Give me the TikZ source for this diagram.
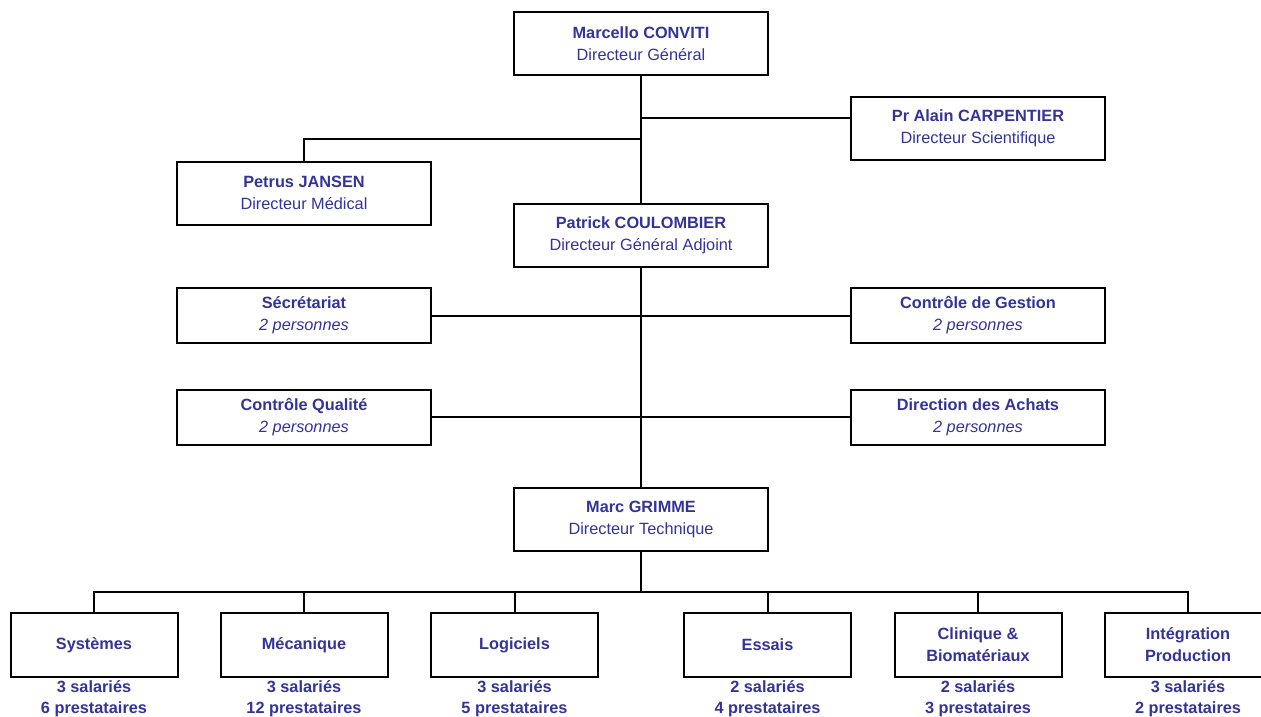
\documentclass[tikz,border=0pt]{standalone}
\usepackage{fontspec}
\setmainfont{Liberation Sans}
\usetikzlibrary{positioning}
\definecolor{orgblue}{RGB}{51,51,153}
\begin{document}
\begin{tikzpicture}[x=1pt,y=-1pt,line width=2pt,
  box/.style={draw=black,line width=2pt,minimum width=254pt,minimum height=63pt,
    align=center,text=orgblue,inner sep=0pt,font=\fontsize{16.3}{22}\selectfont},
  small/.style={box,minimum height=55pt},
  team/.style={box,minimum width=167pt,minimum height=64pt},
  staff/.style={align=center,text=orgblue,inner sep=0pt,
    font=\fontsize{16.3}{21}\selectfont\bfseries}]
\useasboundingbox (0,0) rectangle (1261,717);
\node[box] (conviti) at (641,44) {\textbf{Marcello CONVITI}\\Directeur Général};
\node[box] (carpentier) at (978,128.5) {\textbf{Pr Alain CARPENTIER}\\Directeur Scientifique};
\node[box] (jansen) at (304,193) {\textbf{Petrus JANSEN}\\Directeur Médical};
\node[box] (coulombier) at (641,235) {\textbf{Patrick COULOMBIER}\\Directeur Général Adjoint};
\node[small] (secretariat) at (304,315.5) {\textbf{Sécrétariat}\\\textit{2 personnes}};
\node[small] (gestion) at (978,315.5) {\textbf{Contrôle de Gestion}\\\textit{2 personnes}};
\node[small] (qualite) at (304,417) {\textbf{Contrôle Qualité}\\\textit{2 personnes}};
\node[small] (achats) at (978,417) {\textbf{Direction des Achats}\\\textit{2 personnes}};
\node[box] (grimme) at (641,519) {\textbf{Marc GRIMME}\\Directeur Technique};
% services techniques
\node[team] (systemes) at (94,645) {\textbf{Systèmes}};
\node[team] (mecanique) at (304,645) {\textbf{Mécanique}};
\node[team] (logiciels) at (514.5,645) {\textbf{Logiciels}};
\node[team] (essais) at (767.5,645) {\textbf{Essais}};
\node[team] (clinique) at (978,645) {\textbf{Clinique \&}\\\textbf{Biomatériaux}};
\node[team] (integration) at (1188,645) {\textbf{Intégration}\\\textbf{Production}};
\node[staff,below=2pt of systemes] (systemes-n) {3 salariés\\6 prestataires};
\node[staff,below=2pt of mecanique] (mecanique-n) {3 salariés\\12 prestataires};
\node[staff,below=2pt of logiciels] (logiciels-n) {3 salariés\\5 prestataires};
\node[staff,below=2pt of essais] (essais-n) {2 salariés\\4 prestataires};
\node[staff,below=2pt of clinique] (clinique-n) {2 salariés\\3 prestataires};
\node[staff,below=2pt of integration] (integration-n) {3 salariés\\2 prestataires};
% liaisons
\coordinate (sci) at (641,118);
\coordinate (med) at (641,139);
\coordinate (bus) at (641,592);
\draw (conviti) -- (coulombier);
\draw (sci) -- (sci -| carpentier.west);
\draw (med) -| (jansen.north);
\draw (coulombier) -- (grimme);
\draw (secretariat) -- (gestion);
\draw (qualite) -- (achats);
\draw (grimme) -- (bus);
\draw (systemes.north) -- (systemes.north |- bus) -- (integration.north |- bus) -- (integration.north);
\foreach \n in {mecanique,logiciels,essais,clinique}
  \draw (\n.north) -- (\n.north |- bus);
\end{tikzpicture}
\end{document}
